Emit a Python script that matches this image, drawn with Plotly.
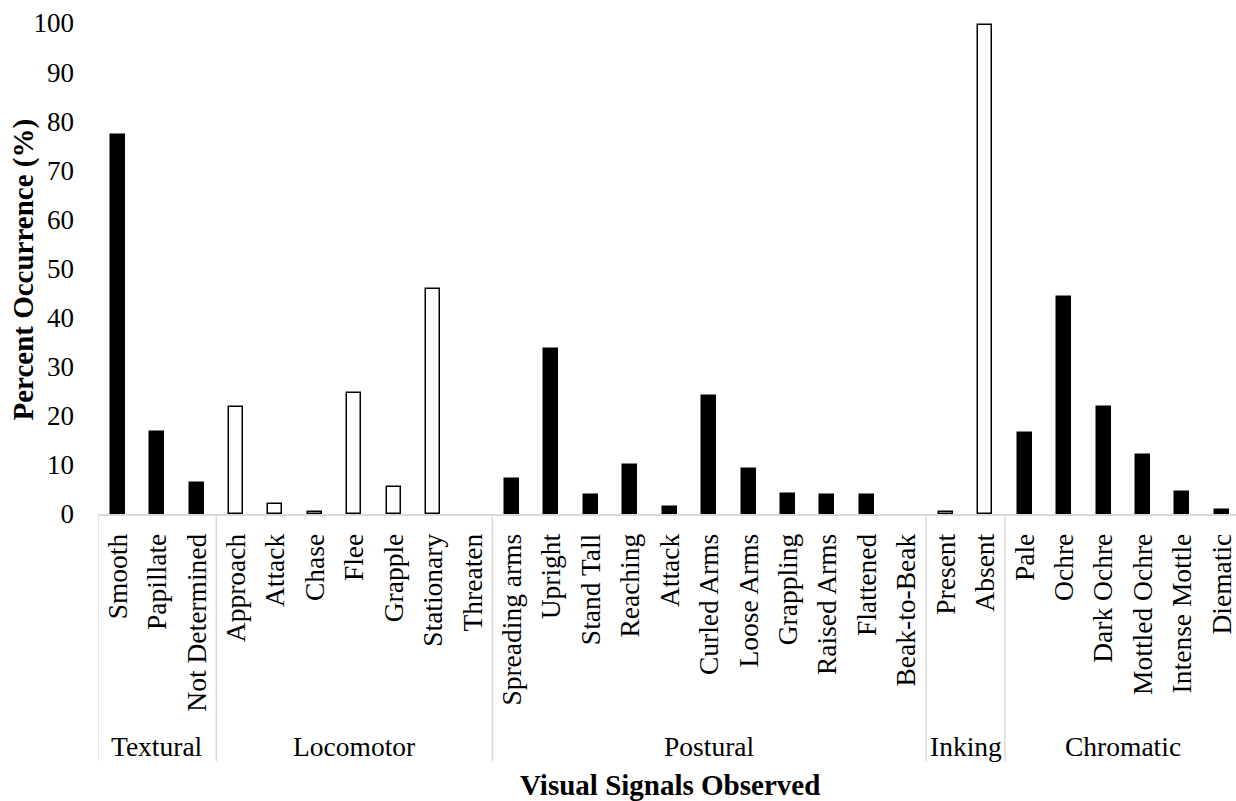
import plotly.graph_objects as go

# ---- data ----
group_names = ["Textural", "Locomotor", "Postural", "Inking", "Chromatic"]

textural_signals = ["Smooth", "Papillate", "Not Determined"]
textural_values = [77.2, 16.8, 6.4]

locomotor_signals = ["Approach", "Attack", "Chase", "Flee", "Grapple", "Stationary", "Threaten"]
locomotor_values = [21.8, 2.0, 0.4, 24.6, 5.5, 45.9, 0.0]

postural_signals = ["Spreading arms", "Upright", "Stand Tall", "Reaching", "Attack",
                    "Curled Arms", "Loose Arms", "Grappling", "Raised Arms", "Flattened",
                    "Beak-to-Beak"]
postural_values = [7.2, 33.7, 3.9, 9.9, 1.5, 24.0, 9.1, 4.0, 3.9, 3.9, 0.0]

inking_signals = ["Present", "Absent"]
inking_values = [0.4, 99.6]

chromatic_signals = ["Pale", "Ochre", "Dark Ochre", "Mottled Ochre", "Intense Mottle", "Diematic"]
chromatic_values = [16.4, 44.2, 21.8, 12.0, 4.4, 0.8]

group_signals = [textural_signals, locomotor_signals, postural_signals, inking_signals, chromatic_signals]
group_values = [textural_values, locomotor_values, postural_values, inking_values, chromatic_values]
group_fills = ["black", "white", "black", "white", "black"]

y_ticks = list(range(0, 101, 10))

FONT = "Liberation Serif, Times New Roman, serif"

fig = go.Figure()

all_labels = []
boundaries = [-0.5]
centers = []
pos = 0
for name, sigs, vals, fill in zip(group_names, group_signals, group_values, group_fills):
    xs = list(range(pos, pos + len(sigs)))
    fig.add_trace(go.Bar(
        x=xs, y=vals, name=name, width=0.355,
        marker=dict(color=fill, line=dict(color="black",
                                          width=[0 if v == 0 else 1.5 for v in vals])),
        showlegend=False,
    ))
    all_labels += sigs
    centers.append(pos + (len(sigs) - 1) / 2)
    pos += len(sigs)
    boundaries.append(pos - 0.5)

n = len(all_labels)

# group separators (multi-level category axis ticks)
sep_bottom = -0.5037
for b in boundaries:
    fig.add_shape(type="line", xref="x", yref="paper", x0=b, x1=b, y0=0, y1=sep_bottom,
                  line=dict(color="#d9d9d9", width=1.5), layer="below")

for name, c in zip(group_names, centers):
    fig.add_annotation(x=c, y=-0.4726, xref="x", yref="paper", text=name, showarrow=False,
                       xanchor="center", yanchor="middle", font=dict(size=27.5, color="black", family=FONT))

fig.add_annotation(x=(n - 1) / 2, y=-0.552, xref="x", yref="paper", text="<b>Visual Signals Observed</b>",
                   showarrow=False, xanchor="center", yanchor="middle",
                   font=dict(size=29, color="black", family=FONT))

fig.add_annotation(x=-0.0655, y=0.4988, xref="paper", yref="paper", text="<b>Percent Occurrence (%)</b>",
                   showarrow=False, textangle=-90, xanchor="center", yanchor="middle",
                   font=dict(size=29, color="black", family=FONT))

fig.update_layout(
    width=1236, height=801,
    margin=dict(l=98, r=0, t=22.5, b=286.7),
    paper_bgcolor="white", plot_bgcolor="white",
    font=dict(family=FONT, color="black", size=27),
    bargap=0.0,
)
fig.update_xaxes(
    range=[-0.5, 28.36], tickmode="array", tickvals=list(range(n)), ticktext=all_labels,
    tickangle=-90, showgrid=False, zeroline=False, showline=True, linecolor="#d9d9d9",
    linewidth=1.5, ticks="", tickfont=dict(size=27.5, family=FONT, color="black"),
    ticklabelstandoff=7, ticklabeloverflow="allow",
)
fig.update_yaxes(
    range=[0, 100], tickmode="array", tickvals=y_ticks, showgrid=False, zeroline=False,
    showline=False, ticks="", tickfont=dict(size=27, family=FONT, color="black"),
    ticklabelstandoff=23,
)

fig.write_html("out.html", config={"displayModeBar": False},
               post_script="document.body.style.margin='0';document.body.style.overflow='hidden';")
